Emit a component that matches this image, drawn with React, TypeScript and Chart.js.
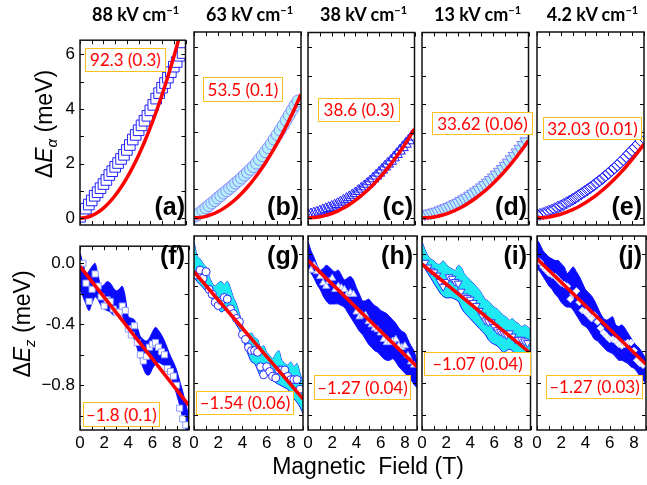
import React, { useEffect, useRef } from 'react';
import { Chart, registerables } from 'chart.js';
Chart.register(...registerables);

// ---------- data ----------
const fieldTop = [0, 0.25, 0.5, 0.75, 1, 1.25, 1.5, 1.75, 2, 2.25, 2.5, 2.75, 3, 3.25, 3.5, 3.75, 4, 4.25, 4.5, 4.75, 5, 5.25, 5.5, 5.75, 6, 6.25, 6.5, 6.75, 7, 7.25, 7.5, 7.75, 8, 8.25, 8.5, 8.75];
const dEa88 = [0.05, 0.2, 0.35, 0.5, 0.65, 0.82, 0.95, 1.1, 1.25, 1.4, 1.58, 1.72, 1.88, 2.02, 2.17, 2.32, 2.5, 2.68, 2.88, 3.05, 3.22, 3.4, 3.57, 3.75, 3.95, 4.15, 4.38, 4.58, 4.78, 4.95, 5.15, 5.35, 5.55, 5.72, 5.95, 6.05];
const dEa63 = [0.05, 0.1, 0.18, 0.26, 0.35, 0.43, 0.52, 0.6, 0.7, 0.78, 0.87, 0.95, 1.04, 1.12, 1.22, 1.3, 1.4, 1.5, 1.6, 1.7, 1.8, 1.92, 2.05, 2.18, 2.32, 2.46, 2.6, 2.76, 2.92, 3.08, 3.24, 3.42, 3.6, 3.78, 3.95, 4.1];
const dEa38 = [0.1, 0.12, 0.15, 0.18, 0.22, 0.26, 0.3, 0.34, 0.38, 0.43, 0.48, 0.54, 0.6, 0.66, 0.72, 0.79, 0.86, 0.94, 1.02, 1.1, 1.19, 1.28, 1.38, 1.48, 1.58, 1.69, 1.8, 1.9, 2.0, 2.12, 2.24, 2.36, 2.48, 2.6, 2.72, 2.85];
const dEa13 = [0.12, 0.13, 0.15, 0.17, 0.2, 0.23, 0.27, 0.31, 0.35, 0.39, 0.44, 0.49, 0.54, 0.6, 0.66, 0.72, 0.79, 0.86, 0.93, 1.0, 1.08, 1.16, 1.25, 1.34, 1.43, 1.53, 1.63, 1.73, 1.84, 1.95, 2.07, 2.19, 2.31, 2.44, 2.57, 2.7];
const dEa4 = [0.1, 0.12, 0.15, 0.19, 0.23, 0.27, 0.32, 0.37, 0.42, 0.47, 0.53, 0.59, 0.65, 0.71, 0.78, 0.85, 0.92, 0.99, 1.06, 1.14, 1.22, 1.3, 1.38, 1.47, 1.56, 1.65, 1.74, 1.84, 1.94, 2.04, 2.15, 2.26, 2.37, 2.48, 2.59, 2.7];

const fitField = [0, 0.5, 1, 1.5, 2, 2.5, 3, 3.5, 4, 4.5, 5, 5.5, 6, 6.5, 7, 7.5, 8, 8.5, 9];
const fitA = [0, 0.023, 0.092, 0.208, 0.369, 0.577, 0.831, 1.131, 1.477, 1.869, 2.308, 2.792, 3.323, 3.9, 4.523, 5.192, 5.907, 6.669, 7.476];
const fitB = [0, 0.013, 0.054, 0.12, 0.214, 0.334, 0.482, 0.655, 0.856, 1.083, 1.338, 1.618, 1.926, 2.26, 2.622, 3.009, 3.424, 3.865, 4.334];
const fitC = [0, 0.01, 0.039, 0.087, 0.154, 0.241, 0.347, 0.473, 0.618, 0.782, 0.965, 1.168, 1.39, 1.631, 1.891, 2.171, 2.47, 2.789, 3.127];
const fitD = [0, 0.008, 0.034, 0.076, 0.134, 0.21, 0.303, 0.412, 0.538, 0.681, 0.841, 1.017, 1.21, 1.42, 1.647, 1.891, 2.152, 2.429, 2.723];
const fitE = [0, 0.008, 0.032, 0.072, 0.128, 0.2, 0.288, 0.392, 0.512, 0.649, 0.801, 0.969, 1.153, 1.353, 1.569, 1.802, 2.05, 2.314, 2.594];

const bandField = [0, 0.25, 0.5, 0.75, 1, 1.25, 1.5, 1.75, 2, 2.25, 2.5, 2.75, 3, 3.25, 3.5, 3.75, 4, 4.25, 4.5, 4.75, 5, 5.25, 5.5, 5.75, 6, 6.25, 6.5, 6.75, 7, 7.25, 7.5, 7.75, 8, 8.25, 8.5, 8.75, 9];
const fieldBot = [0.25, 0.5, 0.75, 1, 1.25, 1.5, 1.75, 2, 2.25, 2.5, 2.75, 3, 3.25, 3.5, 3.75, 4, 4.25, 4.5, 4.75, 5, 5.25, 5.5, 5.75, 6, 6.25, 6.5, 6.75, 7, 7.25, 7.5, 7.75, 8, 8.25, 8.5, 8.75];

const fUp = [0.07, 0.0, -0.07, -0.05, -0.02, 0.0, -0.08, -0.15, -0.14, -0.12, -0.13, -0.16, -0.18, -0.17, -0.15, -0.22, -0.35, -0.36, -0.37, -0.42, -0.48, -0.5, -0.51, -0.49, -0.45, -0.42, -0.44, -0.47, -0.51, -0.56, -0.61, -0.65, -0.7, -0.77, -0.84, -0.92, -1.0];
const fLo = [-0.17, -0.22, -0.27, -0.31, -0.26, -0.22, -0.24, -0.28, -0.3, -0.31, -0.32, -0.34, -0.33, -0.31, -0.34, -0.39, -0.42, -0.46, -0.5, -0.56, -0.63, -0.69, -0.73, -0.73, -0.69, -0.66, -0.65, -0.66, -0.67, -0.69, -0.73, -0.79, -0.86, -0.93, -1.01, -1.08, -1.15];
const fPts = [0.0, -0.13, -0.25, -0.17, -0.07, -0.15, -0.22, -0.28, -0.24, -0.25, -0.3, -0.32, -0.32, -0.28, -0.31, -0.43, -0.47, -0.41, -0.52, -0.6, -0.64, -0.61, -0.55, -0.53, -0.52, -0.55, -0.58, -0.6, -0.69, -0.71, -0.74, -0.8, -0.95, -1.02, -1.06];

const gUp = [0.08, -0.01, -0.03, -0.06, -0.08, -0.14, -0.18, -0.2, -0.18, -0.17, -0.19, -0.17, -0.21, -0.27, -0.31, -0.37, -0.44, -0.49, -0.5, -0.49, -0.52, -0.53, -0.58, -0.57, -0.61, -0.63, -0.65, -0.62, -0.6, -0.66, -0.68, -0.69, -0.67, -0.7, -0.68, -0.74, -0.8];
const gLo = [-0.14, -0.17, -0.19, -0.21, -0.23, -0.25, -0.28, -0.31, -0.34, -0.36, -0.35, -0.35, -0.37, -0.4, -0.44, -0.47, -0.51, -0.58, -0.63, -0.67, -0.68, -0.72, -0.76, -0.75, -0.74, -0.76, -0.78, -0.8, -0.81, -0.82, -0.83, -0.84, -0.87, -0.9, -0.92, -0.95, -0.99];
const gPts = [-0.13, -0.1, -0.15, -0.11, -0.22, -0.25, -0.3, -0.32, -0.29, -0.27, -0.28, -0.34, -0.37, -0.4, -0.42, -0.5, -0.53, -0.58, -0.6, -0.6, -0.61, -0.7, -0.75, -0.7, -0.73, -0.76, -0.77, -0.72, -0.72, -0.72, -0.76, -0.78, -0.78, -0.78, -0.84];

const hUp = [0.08, 0.02, -0.02, -0.07, -0.1, -0.09, -0.07, -0.08, -0.1, -0.11, -0.1, -0.13, -0.16, -0.15, -0.14, -0.16, -0.21, -0.25, -0.29, -0.29, -0.28, -0.3, -0.32, -0.33, -0.35, -0.36, -0.37, -0.39, -0.41, -0.43, -0.46, -0.48, -0.49, -0.53, -0.57, -0.6, -0.67];
const hLo = [-0.1, -0.12, -0.15, -0.19, -0.22, -0.26, -0.29, -0.31, -0.31, -0.31, -0.31, -0.32, -0.33, -0.36, -0.39, -0.42, -0.45, -0.48, -0.5, -0.53, -0.56, -0.58, -0.6, -0.61, -0.63, -0.65, -0.66, -0.66, -0.65, -0.67, -0.7, -0.72, -0.74, -0.76, -0.78, -0.81, -0.83];
const hPts = [-0.1, -0.07, -0.11, -0.14, -0.18, -0.2, -0.17, -0.15, -0.22, -0.2, -0.21, -0.22, -0.25, -0.24, -0.25, -0.36, -0.39, -0.38, -0.38, -0.42, -0.44, -0.46, -0.47, -0.49, -0.53, -0.55, -0.55, -0.54, -0.53, -0.57, -0.58, -0.57, -0.63, -0.67, -0.69];

const iUp = [0.08, 0.03, -0.01, -0.03, -0.04, -0.06, -0.06, -0.04, -0.06, -0.08, -0.09, -0.1, -0.07, -0.08, -0.12, -0.14, -0.16, -0.18, -0.2, -0.22, -0.25, -0.28, -0.29, -0.31, -0.33, -0.34, -0.36, -0.38, -0.39, -0.41, -0.4, -0.42, -0.43, -0.45, -0.44, -0.45, -0.47];
const iLo = [-0.04, -0.09, -0.12, -0.15, -0.18, -0.21, -0.24, -0.26, -0.27, -0.27, -0.27, -0.28, -0.29, -0.33, -0.36, -0.38, -0.4, -0.42, -0.44, -0.46, -0.48, -0.5, -0.53, -0.55, -0.56, -0.57, -0.59, -0.61, -0.6, -0.59, -0.6, -0.62, -0.64, -0.65, -0.66, -0.67, -0.68];
const iPts = [-0.05, -0.08, -0.1, -0.11, -0.13, -0.17, -0.2, -0.17, -0.14, -0.15, -0.17, -0.18, -0.23, -0.26, -0.27, -0.28, -0.3, -0.32, -0.35, -0.38, -0.41, -0.42, -0.42, -0.45, -0.47, -0.48, -0.49, -0.5, -0.49, -0.51, -0.53, -0.53, -0.53, -0.54, -0.55];

const jUp = [0.09, 0.06, 0.02, 0.0, -0.02, -0.03, -0.04, -0.04, -0.06, -0.08, -0.12, -0.1, -0.08, -0.11, -0.14, -0.18, -0.22, -0.24, -0.26, -0.29, -0.33, -0.37, -0.4, -0.41, -0.4, -0.39, -0.44, -0.45, -0.44, -0.46, -0.49, -0.52, -0.55, -0.57, -0.59, -0.62, -0.65];
const jLo = [-0.09, -0.11, -0.14, -0.17, -0.2, -0.22, -0.25, -0.27, -0.3, -0.32, -0.33, -0.33, -0.35, -0.38, -0.41, -0.44, -0.45, -0.47, -0.5, -0.53, -0.54, -0.56, -0.58, -0.6, -0.61, -0.62, -0.64, -0.66, -0.66, -0.67, -0.68, -0.7, -0.71, -0.73, -0.76, -0.78, -0.81];
const jPts = [-0.05, -0.08, -0.1, -0.12, -0.13, -0.14, -0.16, -0.18, -0.19, -0.2, -0.28, -0.25, -0.23, -0.3, -0.35, -0.36, -0.38, -0.4, -0.38, -0.42, -0.46, -0.49, -0.51, -0.53, -0.53, -0.54, -0.56, -0.57, -0.56, -0.55, -0.55, -0.6, -0.66, -0.68, -0.69];

const fitLineField = [0, 9];
const fitF = [-0.02, -0.93];
const fitG = [-0.11, -0.9];
const fitH = [-0.04, -0.7];
const fitI = [-0.06, -0.615];
const fitJ = [-0.03, -0.685];

const columnTitles = ['88', '63', '38', '13', '4.2'];
const topLetters = ['(a)', '(b)', '(c)', '(d)', '(e)'];
const botLetters = ['(f)', '(g)', '(h)', '(i)', '(j)'];
const topFitLabels = ['92.3 (0.3)', '53.5 (0.1)', '38.6 (0.3)', '33.62 (0.06)', '32.03 (0.01)'];
const botFitLabels = ['\u20131.8 (0.1)', '\u20131.54 (0.06)', '\u20131.27 (0.04)', '\u20131.07 (0.04)', '\u20131.27 (0.03)'];

const xTickValues = [0, 2, 4, 6, 8];
const xTickLabels = ['0', '2', '4', '6', '8'];
const aTickValues = [0, 2, 4, 6];
const aTickLabels = ['0', '2', '4', '6'];
const zTickValues = [0, -0.4, -0.8];
const zTickLabels = ['0.0', '-0.4', '\u22120.8'];

// ---------- layout ----------
const COL_LEFT = [80, 194, 308, 422, 537];
const PANEL_W = 111;
const ROW_TOP = [28, 234];
const ROW_H = [197, 196];
const PAD_L = 48, PAD_T = 3, PAD_R = 3, PAD_B = 30;

const TICK_FONT = { family: '"Liberation Sans", Arial, sans-serif', size: 17 };

const pick = (values: number[], labels: string[]) => (v: number) => {
  const i = values.findIndex((t) => Math.abs(t - v) < 1e-6);
  return i >= 0 ? labels[i] : '';
};

const framePlugin = {
  id: 'frame',
  afterDraw(chart: any) {
    const { ctx, chartArea: a, scales } = chart;
    ctx.save();
    ctx.strokeStyle = '#000';
    ctx.lineWidth = 1;
    ctx.beginPath();
    scales.x.ticks.forEach((t: any) => {
      const px = Math.round(scales.x.getPixelForValue(t.value)) + 0.5;
      ctx.moveTo(px, a.top); ctx.lineTo(px, a.top + 4);
      ctx.moveTo(px, a.bottom); ctx.lineTo(px, a.bottom - 4);
    });
    scales.y.ticks.forEach((t: any) => {
      const py = Math.round(scales.y.getPixelForValue(t.value)) + 0.5;
      ctx.moveTo(a.left, py); ctx.lineTo(a.left + 4, py);
      ctx.moveTo(a.right, py); ctx.lineTo(a.right - 4, py);
    });
    ctx.stroke();
    ctx.lineWidth = 1.5;
    ctx.strokeStyle = '#111';
    ctx.strokeRect(a.left, a.top, a.right - a.left, a.bottom - a.top);
    ctx.restore();
  },
};

const xy = (xs: number[], ys: number[]) => xs.map((x, i) => ({ x, y: ys[i] }));

type Marker = { style: string; r: number; bg: string; border: string; rot?: number };

function topDatasets(vals: number[], fit: number[], m: Marker) {
  return [
    { data: xy(fitField, fit), borderColor: '#ff0000', borderWidth: 3.5, pointRadius: 0, cubicInterpolationMode: 'monotone', fill: false, clip: 0 },
    { data: xy(fieldTop, vals), showLine: false, pointStyle: m.style, pointRadius: m.r, pointRotation: m.rot || 0, pointBackgroundColor: m.bg, pointBorderColor: m.border, pointBorderWidth: 1, clip: 0 },
  ];
}

function botDatasets(pts: number[], up: number[], lo: number[], fit: number[], band: string, m: Marker) {
  return [
    { data: xy(fitLineField, fit), borderColor: '#ff0000', borderWidth: 3.5, pointRadius: 0, fill: false, clip: 0 },
    { data: xy(fieldBot, pts), showLine: false, pointStyle: m.style, pointRadius: m.r, pointRotation: m.rot || 0, pointBackgroundColor: m.bg, pointBorderColor: m.border, pointBorderWidth: 1, clip: 0 },
    { data: xy(bandField, lo), borderColor: '#1010ff', borderWidth: 1, pointRadius: 0, tension: 0.3, fill: 3, backgroundColor: band, clip: 0 },
    { data: xy(bandField, up), borderColor: '#1010ff', borderWidth: 1, pointRadius: 0, tension: 0.3, fill: false, clip: 0 },
  ];
}

const BLUE = '#0a0aff';
const CYAN = '#1ee8f2';

const topPanels = [
  topDatasets(dEa88, fitA, { style: 'rect', r: 7.5, bg: '#ffffff', border: '#2020ff' }),
  topDatasets(dEa63, fitB, { style: 'circle', r: 6, bg: '#b4f0fa', border: '#8a8aff' }),
  topDatasets(dEa38, fitC, { style: 'triangle', r: 6.5, bg: 'rgba(255,255,255,0)', border: '#1a1aff' }),
  topDatasets(dEa13, fitD, { style: 'triangle', r: 6.5, bg: '#b4eef8', border: '#7c7cff', rot: 180 }),
  topDatasets(dEa4, fitE, { style: 'rectRot', r: 6, bg: 'rgba(255,255,255,0)', border: '#1a1aff' }),
];
const botPanels = [
  botDatasets(fPts, fUp, fLo, fitF, BLUE, { style: 'rect', r: 4.3, bg: '#ffffff', border: '#8c9cff' }),
  botDatasets(gPts, gUp, gLo, fitG, CYAN, { style: 'circle', r: 4, bg: '#ffffff', border: '#2a2aff' }),
  botDatasets(hPts, hUp, hLo, fitH, BLUE, { style: 'triangle', r: 4, bg: '#ffffff', border: '#a0b0ff' }),
  botDatasets(iPts, iUp, iLo, fitI, CYAN, { style: 'triangle', r: 4.5, bg: '#ffffff', border: '#3a3aff', rot: 180 }),
  botDatasets(jPts, jUp, jLo, fitJ, BLUE, { style: 'rectRot', r: 3.5, bg: '#ffffff', border: '#c0c8ff' }),
];

function Panel({ col, row, datasets }: { col: number; row: number; datasets: any[] }) {
  const ref = useRef<HTMLCanvasElement>(null);
  const left = COL_LEFT[col];
  const top = ROW_TOP[row];
  const h = ROW_H[row];
  const cw = PAD_L + PANEL_W + PAD_R;
  const ch = PAD_T + h + PAD_B;
  useEffect(() => {
    const isTop = row === 0;
    const chart = new Chart(ref.current as HTMLCanvasElement, {
      type: 'line',
      data: { datasets: datasets as any },
      options: {
        animation: false,
        responsive: false,
        devicePixelRatio: 1,
        layout: { padding: { top: PAD_T, right: PAD_R, left: 0, bottom: 0 } },
        plugins: { legend: { display: false }, tooltip: { enabled: false } },
        scales: {
          x: {
            type: 'linear', min: 0, max: 9,
            grid: { display: false, drawTicks: false },
            border: { display: false },
            ticks: {
              stepSize: 1, includeBounds: false, autoSkip: false, maxRotation: 0,
              display: !isTop, padding: 3, color: '#000', font: TICK_FONT,
              callback: (v: any) => pick(xTickValues, xTickLabels)(Number(v)),
            },
            afterFit: (s: any) => { s.height = PAD_B; },
          },
          y: {
            type: 'linear',
            min: isTop ? -0.25 : -1.093, max: isTop ? 6.52 : 0.112,
            grid: { display: false, drawTicks: false },
            border: { display: false },
            ticks: {
              stepSize: isTop ? 1 : 0.2, includeBounds: false, autoSkip: false,
              display: col === 0, padding: 5, color: '#000', font: TICK_FONT,
              callback: (v: any) => isTop ? pick(aTickValues, aTickLabels)(Number(v)) : pick(zTickValues, zTickLabels)(Number(v)),
            },
            afterFit: (s: any) => { s.width = PAD_L; },
          },
        },
      } as any,
      plugins: [framePlugin],
    });
    return () => chart.destroy();
  }, []);
  return (
    <canvas ref={ref} width={cw} height={ch}
      style={{ position: 'absolute', left: left - PAD_L, top: top - PAD_T, width: cw, height: ch }} />
  );
}

const topAnnBoxes = [[85, 48, 81, 24], [203, 77, 80, 25], [318, 98, 82, 24], [432, 112, 101, 23], [543, 117, 99, 23]];
const botAnnBoxes = [[83, 402, 77, 25], [196, 391, 98, 24], [314, 375, 97, 25], [424, 352, 107, 24], [546, 375, 97, 24]];

function AnnBox({ box, text }: { box: number[]; text: string }) {
  return (
    <div style={{
      position: 'absolute', left: box[0], top: box[1], width: box[2], height: box[3], boxSizing: 'border-box',
      border: '1px solid #ffc21a', background: '#fff', color: '#ff0000',
      fontFamily: 'Lato, "Open Sans", sans-serif', fontSize: 17, lineHeight: `${box[3] - 2}px`,
      textAlign: 'center', whiteSpace: 'nowrap',
    }}>{text}</div>
  );
}

export default function App() {
  return (
    <div style={{ position: 'fixed', left: 0, top: 0, width: 647, height: 485, background: '#fff', overflow: 'hidden', fontFamily: '"Liberation Sans", Arial, sans-serif', color: '#000' }}>
      {topPanels.map((ds, c) => <Panel key={'t' + c} col={c} row={0} datasets={ds} />)}
      {botPanels.map((ds, c) => <Panel key={'b' + c} col={c} row={1} datasets={ds} />)}

      {columnTitles.map((t, c) => (
        <div key={'ct' + c} style={{ position: 'absolute', left: COL_LEFT[c] - 20, width: PANEL_W + 40, top: 2, height: 24, lineHeight: '24px', textAlign: 'center', fontFamily: 'Lato, "Open Sans", sans-serif', fontWeight: 700, fontSize: 18, whiteSpace: 'nowrap' }}>
          {t} kV cm<span style={{ fontSize: 11, position: 'relative', top: -7 }}>{'\u22121'}</span>
        </div>
      ))}

      {topLetters.map((t, c) => (
        <div key={'tl' + c} style={{ position: 'absolute', left: COL_LEFT[c], width: PANEL_W - 6, top: 194, textAlign: 'right', fontWeight: 700, fontSize: 25, lineHeight: '25px' }}>{t}</div>
      ))}
      {botLetters.map((t, c) => (
        <div key={'bl' + c} style={{ position: 'absolute', left: COL_LEFT[c], width: PANEL_W - 6, top: 243, textAlign: 'right', fontWeight: 700, fontSize: 25, lineHeight: '25px' }}>{t}</div>
      ))}

      {topFitLabels.map((t, c) => <AnnBox key={'ta' + c} box={topAnnBoxes[c]} text={t} />)}
      {botFitLabels.map((t, c) => <AnnBox key={'ba' + c} box={botAnnBoxes[c]} text={t} />)}

      <div style={{ position: 'absolute', left: 44 - 100, top: 124 - 15, width: 200, height: 30, lineHeight: '30px', textAlign: 'center', fontSize: 23, transform: 'rotate(-90deg)', whiteSpace: 'nowrap' }}>
        {'\u0394'}<i>E</i><sub style={{ fontSize: 15, fontStyle: 'italic', verticalAlign: 'baseline', position: 'relative', top: 5 }}>{'\u03b1'}</sub> (meV)
      </div>
      <div style={{ position: 'absolute', left: 22 - 100, top: 324 - 15, width: 200, height: 30, lineHeight: '30px', textAlign: 'center', fontSize: 23, transform: 'rotate(-90deg)', whiteSpace: 'nowrap' }}>
        {'\u0394'}<i>E</i><sub style={{ fontSize: 15, fontStyle: 'italic', verticalAlign: 'baseline', position: 'relative', top: 5 }}>z</sub> (meV)
      </div>
      <div style={{ position: 'absolute', left: 218, width: 300, top: 452, height: 28, lineHeight: '28px', textAlign: 'center', fontSize: 23, whiteSpace: 'pre' }}>
        {'Magnetic  Field (T)'}
      </div>
    </div>
  );
}
